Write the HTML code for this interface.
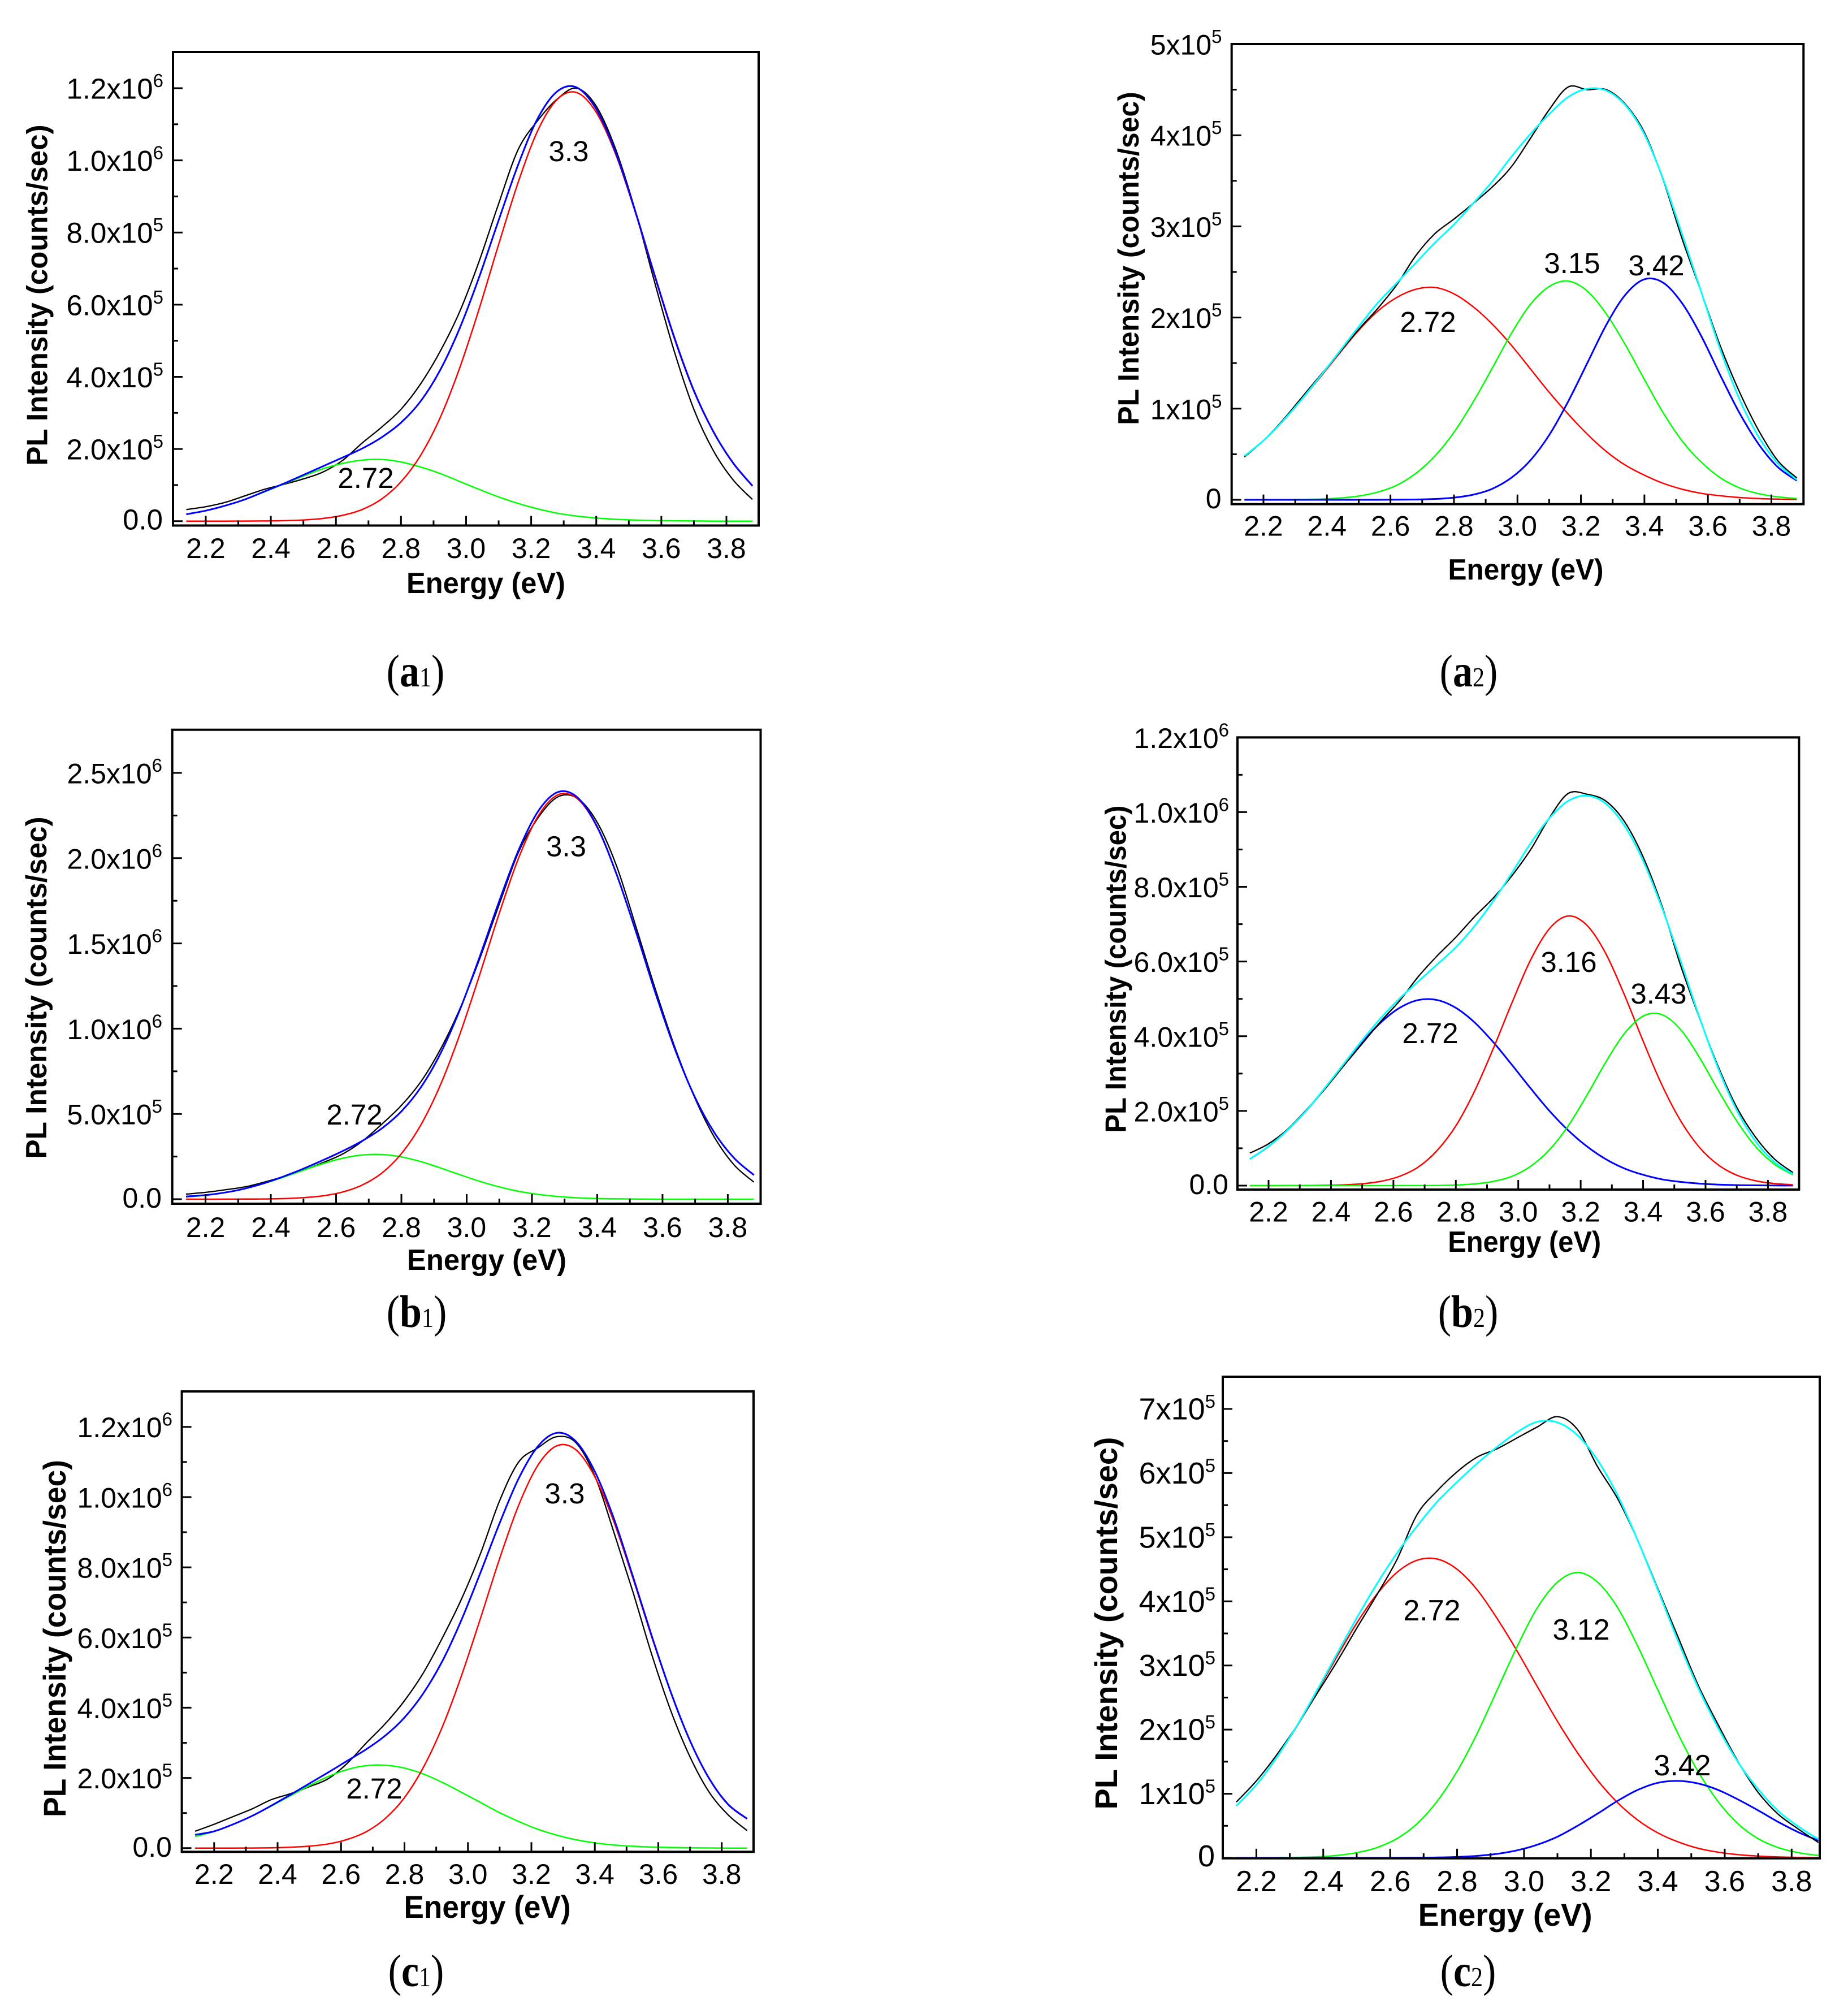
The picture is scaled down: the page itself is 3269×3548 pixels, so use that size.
<!DOCTYPE html>
<html>
<head>
<meta charset="utf-8">
<title>PL spectra panels</title>
<style>
html,body{margin:0;padding:0;background:#fff;}
svg{display:block;}
text{fill:#000;}
.sans{font-family:"Liberation Sans",Arial,sans-serif;}
.serif{font-family:"Liberation Serif","Times New Roman",serif;}
</style>
</head>
<body>
<svg id="figure" xmlns="http://www.w3.org/2000/svg" width="3269" height="3548" viewBox="0 0 3269 3548">
<rect width="3269" height="3548" fill="#fff"/>
</svg>
<script>
// Shared category axis: photon energy (eV)
const energies = [2.14,2.20,2.26,2.32,2.38,2.44,2.50,2.56,2.62,2.68,2.74,2.80,2.86,2.92,2.98,3.04,3.10,3.16,3.22,3.28,3.34,3.40,3.46,3.52,3.58,3.64,3.70,3.76,3.82,3.88];
const xMajorTicks = ["2.2","2.4","2.6","2.8","3.0","3.2","3.4","3.6","3.8"];
const xMinorTicks = [2.3,2.5,2.7,2.9,3.1,3.3,3.5,3.7];

// Series values in units of 1e5 counts/sec
const a1Black = [.32,.40,.52,.70,.88,1.02,1.17,1.36,1.68,2.16,2.6,3.1,3.8,4.7,5.8,7.2,8.8,10.3,11.1,11.7,12.0,11.5,10.3,8.6,6.6,4.7,3.1,1.95,1.15,.6];
const a1Blue = [.19,.29,.43,.60,.82,1.04,1.28,1.52,1.76,2.01,2.32,2.73,3.32,4.18,5.34,6.76,8.34,9.88,11.16,11.91,12.02,11.42,10.21,8.59,6.80,5.09,3.62,2.48,1.62,.98];
const a1Green = [.19,.29,.43,.60,.81,1.03,1.25,1.45,1.60,1.69,1.71,1.64,1.50,1.32,1.10,.88,.67,.49,.34,.22,.14,.085,.05,.03,.015,.01,.005,0,0,0];
const a1Red = [0,0,0,.002,.005,.013,.032,.074,.16,.32,.61,1.09,1.82,2.86,4.24,5.88,7.67,9.39,10.82,11.69,11.88,11.33,10.16,8.56,6.77,5.06,3.60,2.47,1.61,.97];

const a2Black = [.47,.65,.87,1.12,1.37,1.62,1.87,2.10,2.36,2.68,2.92,3.08,3.25,3.43,3.65,3.96,4.28,4.53,4.50,4.50,4.34,4.03,3.50,2.85,2.27,1.68,1.18,.76,.43,.24];
const a2Cyan = [.48,.65,.86,1.10,1.36,1.63,1.90,2.16,2.38,2.60,2.82,3.02,3.25,3.49,3.76,4.01,4.23,4.42,4.51,4.49,4.33,4.01,3.51,2.90,2.27,1.64,1.10,.69,.40,.22];
const a2Red = [.48,.65,.86,1.10,1.35,1.61,1.86,2.07,2.22,2.31,2.33,2.26,2.12,1.93,1.70,1.44,1.18,.94,.72,.53,.38,.27,.18,.115,.07,.044,.025,.014,.008,.005];
const a2Green = [0,0,.001,.003,.008,.019,.041,.085,.16,.29,.48,.74,1.07,1.44,1.82,2.14,2.34,2.40,2.29,2.04,1.70,1.32,.95,.64,.41,.24,.13,.067,.032,.014];
const a2Blue = [0,0,0,0,0,0,0,0,.001,.003,.009,.024,.056,.12,.24,.43,.71,1.08,1.50,1.92,2.25,2.42,2.38,2.15,1.79,1.36,.95,.61,.36,.21];

const b1Black = [.3,.4,.55,.72,1.0,1.33,1.7,2.15,2.65,3.4,4.4,5.5,6.9,8.8,11.2,14.1,17.3,20.4,22.4,23.6,23.5,22.1,19.5,15.9,12.2,8.8,5.9,3.6,2.0,1.0];
const b1Blue = [.16,.24,.39,.62,.94,1.34,1.79,2.29,2.82,3.42,4.15,5.15,6.57,8.55,11.15,14.22,17.49,20.51,22.78,23.88,23.55,21.84,19.02,15.61,12.0,8.7,5.95,3.87,2.4,1.42];
const b1Green = [.13,.23,.39,.62,.93,1.30,1.70,2.09,2.40,2.59,2.62,2.48,2.20,1.83,1.43,1.05,.72,.46,.28,.16,.08,.04,.02,.01,0,0,0,0,0,0];
const b1Red = [0,0,.002,.005,.014,.037,.088,.2,.42,.83,1.53,2.67,4.37,6.72,9.72,13.17,16.77,20.05,22.5,23.72,23.47,21.8,19.0,15.6,12.0,8.7,5.94,3.86,2.39,1.41];

const b2Black = [.87,1.12,1.5,2.02,2.58,3.2,3.8,4.4,4.95,5.6,6.15,6.65,7.2,7.7,8.3,9.0,9.85,10.5,10.48,10.3,9.75,8.8,7.5,5.9,4.5,3.2,2.1,1.3,.72,.35];
const b2Cyan = [.71,1.05,1.48,2.0,2.61,3.25,3.89,4.49,5.01,5.47,5.92,6.38,6.95,7.62,8.38,9.17,9.84,10.30,10.44,10.23,9.64,8.70,7.45,6.02,4.52,3.15,2.02,1.19,.64,.31];
const b2Blue = [.71,1.05,1.48,2.0,2.6,3.23,3.84,4.37,4.76,4.97,4.97,4.76,4.37,3.84,3.23,2.6,2.0,1.48,1.05,.71,.46,.29,.17,.10,.054,.028,.014,.007,.003,.001];
const b2Red = [0,0,.001,.002,.007,.019,.049,.115,.25,.5,.94,1.6,2.53,3.67,4.9,6.05,6.88,7.22,6.97,6.22,5.11,3.87,2.70,1.74,1.03,.56,.28,.13,.056,.022];
const b2Green = [0,0,0,0,0,0,0,0,.001,.002,.005,.016,.045,.113,.25,.52,.96,1.6,2.42,3.30,4.07,4.54,4.58,4.18,3.44,2.56,1.73,1.05,.58,.29];

const c1Black = [.48,.68,.9,1.12,1.38,1.55,1.75,1.98,2.42,3.0,3.55,4.2,5.0,6.0,7.1,8.4,9.9,11.0,11.4,11.72,11.55,10.6,9.0,7.3,5.5,3.9,2.6,1.6,.95,.5];
const c1Blue = [.38,.48,.68,.92,1.21,1.52,1.84,2.16,2.49,2.82,3.21,3.72,4.42,5.34,6.51,7.86,9.26,10.53,11.44,11.83,11.59,10.73,9.39,7.74,6.03,4.43,3.06,1.99,1.25,.84];
const c1Green = [.33,.48,.68,.92,1.2,1.49,1.78,2.04,2.24,2.35,2.36,2.28,2.11,1.87,1.59,1.30,1.01,.76,.54,.37,.24,.15,.09,.054,.03,.02,.01,.005,.002,0];
const c1Red = [0,0,.001,.004,.01,.025,.057,.12,.25,.47,.85,1.44,2.31,3.47,4.92,6.56,8.25,9.77,10.9,11.46,11.35,10.58,9.3,7.69,6.0,4.42,3.05,1.98,1.24,.83];

const c2Black = [.87,1.2,1.6,2.05,2.55,3.05,3.58,4.1,4.65,5.35,5.72,6.02,6.25,6.38,6.55,6.72,6.88,6.68,6.1,5.6,4.95,4.2,3.45,2.7,2.08,1.5,1.02,.68,.45,.24];
const c2Cyan = [.81,1.14,1.56,2.05,2.60,3.17,3.74,4.27,4.75,5.17,5.55,5.86,6.15,6.41,6.64,6.80,6.79,6.59,6.20,5.65,4.95,4.18,3.39,2.66,2.03,1.49,1.07,.73,.49,.29];
const c2Red = [.81,1.14,1.56,2.04,2.58,3.13,3.66,4.11,4.45,4.64,4.66,4.50,4.18,3.73,3.22,2.67,2.13,1.64,1.21,.86,.59,.39,.25,.15,.089,.05,.027,.014,.007,.003];
const c2Green = [0,.001,.003,.007,.016,.038,.081,.16,.30,.53,.88,1.35,1.94,2.62,3.30,3.90,4.30,4.45,4.30,3.90,3.30,2.62,1.94,1.35,.88,.53,.30,.16,.081,.038];
const c2Blue = [0,0,0,0,0,0,0,0,.001,.002,.006,.014,.031,.063,.118,.205,.33,.50,.69,.89,1.06,1.17,1.20,1.16,1.06,.91,.74,.56,.40,.27];

// Y tick values (1e5 units) and printed labels [mantissa, exponent]
const a1YValues = [0,2,4,6,8,10,12];
const a1YLabels = [["0.0",""],["2.0x10","5"],["4.0x10","5"],["6.0x10","5"],["8.0x10","5"],["1.0x10","6"],["1.2x10","6"]];
const a1YMinor = [1,3,5,7,9,11];
const a2YValues = [0,1,2,3,4,5];
const a2YLabels = [["0",""],["1x10","5"],["2x10","5"],["3x10","5"],["4x10","5"],["5x10","5"]];
const a2YMinor = [.5,1.5,2.5,3.5,4.5];
const b1YValues = [0,5,10,15,20,25];
const b1YLabels = [["0.0",""],["5.0x10","5"],["1.0x10","6"],["1.5x10","6"],["2.0x10","6"],["2.5x10","6"]];
const b1YMinor = [2.5,7.5,12.5,17.5,22.5];
const b2YValues = [0,2,4,6,8,10,12];
const b2YLabels = [["0.0",""],["2.0x10","5"],["4.0x10","5"],["6.0x10","5"],["8.0x10","5"],["1.0x10","6"],["1.2x10","6"]];
const b2YMinor = [1,3,5,7,9,11];
const c1YValues = [0,2,4,6,8,10,12];
const c1YLabels = [["0.0",""],["2.0x10","5"],["4.0x10","5"],["6.0x10","5"],["8.0x10","5"],["1.0x10","6"],["1.2x10","6"]];
const c1YMinor = [1,3,5,7,9,11];
const c2YValues = [0,1,2,3,4,5,6,7];
const c2YLabels = [["0",""],["1x10","5"],["2x10","5"],["3x10","5"],["4x10","5"],["5x10","5"],["6x10","5"],["7x10","5"]];
const c2YMinor = [.5,1.5,2.5,3.5,4.5,5.5,6.5];

const COLORS = {black:"#000000",red:"#ff0000",green:"#00ff00",blue:"#0000ff",cyan:"#00ffff"};
const WIDTHS = {black:2.3,red:2.5,green:2.5,blue:3,cyan:3};

const panels = [
 {id:"a1",letter:"a",sub:"1",l:306,r:1342,t:92,b:929.5,x22:364,x38:1285,y0:921.7,yRefPx:156,yRefVal:12,
  yVals:a1YValues,yLabs:a1YLabels,yMin:a1YMinor,
  series:[["black",a1Black],["green",a1Green],["red",a1Red],["blue",a1Blue]],
  notes:[["3.3",1006,285],["2.72",647,863]],
  fs:50,yfs:51,nfs:51,tfs:52,labelRight:289,xLabBase:987,xTitle:[859.5,1049,281],yTitle:[83.3,522,603],cap:[735,1214]},
 {id:"a2",letter:"a",sub:"2",l:2178.7,r:3190.3,t:78,b:891.7,x22:2235,x38:3133.5,y0:884,yRefPx:78,yRefVal:5,
  yVals:a2YValues,yLabs:a2YLabels,yMin:a2YMinor,
  series:[["red",a2Red],["green",a2Green],["blue",a2Blue],["black",a2Black],["cyan",a2Cyan]],
  notes:[["2.72",2526,587],["3.15",2781,483],["3.42",2930,487]],
  fs:50,yfs:50,nfs:51,tfs:52,labelRight:2161.5,xLabBase:947.5,xTitle:[2699,1025,275],yTitle:[2014,457,589.5],cap:[2598,1214]},
 {id:"b1",letter:"b",sub:"1",l:304.7,r:1345.5,t:1290.7,b:2129,x22:363.6,x38:1287.4,y0:2121,yRefPx:1367,yRefVal:25,
  yVals:b1YValues,yLabs:b1YLabels,yMin:b1YMinor,
  series:[["black",b1Black],["green",b1Green],["red",b1Red],["blue",b1Blue]],
  notes:[["3.3",1001.5,1514.5],["2.72",627,1989]],
  fs:50,yfs:50,nfs:51,tfs:52,labelRight:287,xLabBase:2188,xTitle:[861,2246,282],yTitle:[82.2,1747,605],cap:[737,2347]},
 {id:"b2",letter:"b",sub:"2",l:2189,r:3182.4,t:1304.3,b:2104,x22:2244,x38:3127.4,y0:2097,yRefPx:1304.3,yRefVal:12,
  yVals:b2YValues,yLabs:b2YLabels,yMin:b2YMinor,
  series:[["blue",b2Blue],["red",b2Red],["green",b2Green],["black",b2Black],["cyan",b2Cyan]],
  notes:[["2.72",2530,1845],["3.16",2775,1719],["3.43",2934,1775]],
  fs:50,yfs:50,nfs:51,tfs:52,labelRight:2174,xLabBase:2160.6,xTitle:[2696.7,2214,271],yTitle:[1991.7,1714,579],cap:[2597,2347]},
 {id:"c1",letter:"c",sub:"1",l:321.6,r:1333,t:2461,b:3275.3,x22:378.8,x38:1276.7,y0:3268.8,yRefPx:2523.7,yRefVal:12,
  yVals:c1YValues,yLabs:c1YLabels,yMin:c1YMinor,
  series:[["black",c1Black],["green",c1Green],["red",c1Red],["blue",c1Blue]],
  notes:[["3.3",999,2659],["2.72",662,3181]],
  fs:50,yfs:50,nfs:51,tfs:56,labelRight:305,xLabBase:3332,xTitle:[862,3392,295],yTitle:[116,2898,632],cap:[736,3513]},
 {id:"c2",letter:"c",sub:"2",l:2163,r:3219,t:2435,b:3286.8,x22:2222.4,x38:3169.3,y0:3286,yRefPx:2492,yRefVal:7,
  yVals:c2YValues,yLabs:c2YLabels,yMin:c2YMinor,
  series:[["red",c2Red],["green",c2Green],["blue",c2Blue],["black",c2Black],["cyan",c2Cyan]],
  notes:[["2.72",2533,2866],["3.12",2797,2900],["3.42",2976,3140]],
  fs:52,yfs:54,nfs:52,tfs:56,labelRight:2150,xLabBase:3345,xTitle:[2662.6,3406,308],yTitle:[1976,2871,659],cap:[2597,3513]}
];

const NS = "http://www.w3.org/2000/svg";
const root = document.getElementById("figure");

function make(tag, attrs, parent){
  const node = document.createElementNS(NS, tag);
  for (const k in attrs) node.setAttribute(k, attrs[k]);
  parent.appendChild(node);
  return node;
}

function smoothPath(pts){
  let d = "M" + pts[0][0].toFixed(1) + " " + pts[0][1].toFixed(1);
  for (let i = 0; i < pts.length - 1; i++){
    const p0 = pts[Math.max(i - 1, 0)], p1 = pts[i], p2 = pts[i + 1], p3 = pts[Math.min(i + 2, pts.length - 1)];
    const c1x = p1[0] + (p2[0] - p0[0]) / 6, c1y = p1[1] + (p2[1] - p0[1]) / 6;
    const c2x = p2[0] - (p3[0] - p1[0]) / 6, c2y = p2[1] - (p3[1] - p1[1]) / 6;
    d += "C" + c1x.toFixed(1) + " " + c1y.toFixed(1) + " " + c2x.toFixed(1) + " " + c2y.toFixed(1) + " " + p2[0].toFixed(1) + " " + p2[1].toFixed(1);
  }
  return d;
}

panels.forEach(function(p){
  const xScale = function(e){ return p.x22 + (e - 2.2) * (p.x38 - p.x22) / 1.6; };
  const yScale = function(v){ return p.y0 - v * (p.y0 - p.yRefPx) / p.yRefVal; };

  const g = make("g", {}, root);
  
  

  // Curves
  p.series.forEach(function(s){
    const pts = energies.map(function(e, i){ return [xScale(e), yScale(s[1][i])]; });
    const curve = make("path", {d:smoothPath(pts), fill:"none", stroke:COLORS[s[0]], "stroke-width":WIDTHS[s[0]], "stroke-linejoin":"round"}, g);
    
    
  });

  // Frame
  const frame = make("rect", {x:p.l, y:p.t, width:p.r - p.l, height:p.b - p.t, fill:"none", stroke:"#000", "stroke-width":4}, g);
  
  

  // X ticks
  xMajorTicks.forEach(function(lab){
    const xp = xScale(parseFloat(lab));
    const tick = make("line", {x1:xp, x2:xp, y1:p.b, y2:p.b - 17, stroke:"#000", "stroke-width":3}, g);
    
    
    const label = make("text", {x:xp, y:p.xLabBase, "text-anchor":"middle", "font-size":p.fs, class:"sans"}, g);
    label.textContent = lab;
    
    
  });
  xMinorTicks.forEach(function(v){
    const xp = xScale(v);
    const tick = make("line", {x1:xp, x2:xp, y1:p.b, y2:p.b - 9, stroke:"#000", "stroke-width":3}, g);
    
    
  });

  // Y ticks
  p.yVals.forEach(function(v, i){
    const yp = yScale(v);
    const tick = make("line", {x1:p.l, x2:p.l + 17, y1:yp, y2:yp, stroke:"#000", "stroke-width":3}, g);
    
    
    const hasExp = p.yLabs[i][1] !== "";
    const label = make("text", {x:hasExp ? p.labelRight : p.labelRight - 1, y:yp + (hasExp ? 18.5 : 15), "text-anchor":"end", "font-size":p.yfs, class:"sans"}, g);
    
    
    const main = make("tspan", {}, label);
    main.textContent = p.yLabs[i][0];
    if (hasExp){
      const sup = make("tspan", {dy:-20.5, "font-size":33}, label);
      sup.textContent = p.yLabs[i][1];
    }
  });
  p.yMin.forEach(function(v){
    const yp = yScale(v);
    const tick = make("line", {x1:p.l, x2:p.l + 9, y1:yp, y2:yp, stroke:"#000", "stroke-width":3}, g);
    
    
  });

  // Axis titles
  const xt = make("text", {x:p.xTitle[0], y:p.xTitle[1], "text-anchor":"middle", "font-size":p.tfs, "font-weight":"bold", class:"sans", textLength:p.xTitle[2], lengthAdjust:"spacingAndGlyphs"}, g);
  xt.textContent = "Energy (eV)";
  
  

  const yt = make("text", {x:0, y:0, "text-anchor":"middle", "font-size":p.tfs, "font-weight":"bold", class:"sans", textLength:p.yTitle[2], lengthAdjust:"spacingAndGlyphs", transform:"translate(" + p.yTitle[0] + " " + p.yTitle[1] + ") rotate(-90)"}, g);
  yt.textContent = "PL Intensity (counts/sec)";
  
  

  // Peak annotations
  p.notes.forEach(function(n){
    const note = make("text", {x:n[1], y:n[2], "text-anchor":"middle", "font-size":p.nfs, class:"sans"}, g);
    note.textContent = n[0];
    
    
  });

  // Caption
  const cap = make("text", {x:0, y:0, "text-anchor":"middle", "font-size":70, class:"serif", transform:"translate(" + p.cap[0] + " " + p.cap[1] + ") scale(1 1.15)"}, g);
  
  
  make("tspan", {}, cap).textContent = "(";
  make("tspan", {"font-weight":"bold"}, cap).textContent = p.letter;
  make("tspan", {"font-size":42}, cap).textContent = p.sub;
  make("tspan", {}, cap).textContent = ")";
});
</script>
</body>
</html>
